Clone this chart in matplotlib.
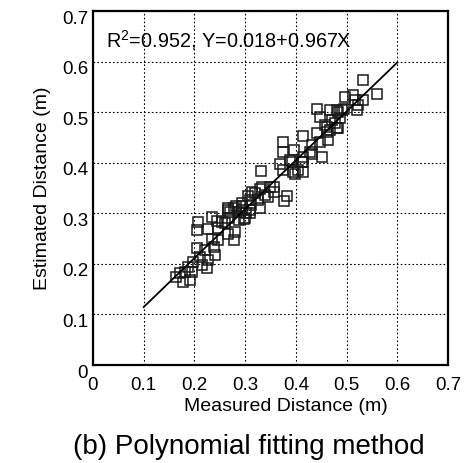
import numpy as np
import matplotlib.pyplot as plt
import matplotlib.transforms as mtransforms

plt.rcParams['font.family'] = ['Liberation Sans', 'DejaVu Sans']
plt.rcParams['mathtext.fontset'] = 'custom'
plt.rcParams['mathtext.rm'] = 'Liberation Sans'

# measured vs estimated distances (m)
measured = [
    0.208, 0.206, 0.226, 0.244, 0.247, 0.260, 0.267, 0.280, 0.279, 0.267,
    0.281, 0.294, 0.298, 0.310, 0.247, 0.234, 0.205, 0.220, 0.239, 0.241,
    0.226, 0.211, 0.198, 0.188, 0.181, 0.195, 0.172, 0.164, 0.178, 0.191,
    0.224, 0.214,
    0.331, 0.377, 0.383, 0.375, 0.396, 0.389, 0.369, 0.395, 0.413, 0.405,
    0.334, 0.349, 0.356, 0.339, 0.320, 0.306, 0.326, 0.312, 0.293, 0.279,
    0.270, 0.288, 0.301, 0.267, 0.255,
    0.497, 0.517, 0.521, 0.441, 0.448, 0.467, 0.484, 0.490, 0.487, 0.471,
    0.458, 0.477, 0.484, 0.467, 0.415, 0.441, 0.461, 0.448, 0.464, 0.431,
    0.428, 0.451, 0.375, 0.392, 0.415, 0.415, 0.375, 0.398, 0.431, 0.415,
    0.532, 0.560, 0.512, 0.533, 0.523, 0.494, 0.481, 0.461, 0.481,
    0.313, 0.329, 0.356, 0.346, 0.329, 0.310, 0.293, 0.310, 0.300, 0.287,
    0.234, 0.267,
]
estimated = [
    0.283, 0.267, 0.268, 0.285, 0.270, 0.281, 0.260, 0.263, 0.248, 0.310,
    0.314, 0.314, 0.288, 0.301, 0.247, 0.250, 0.231, 0.227, 0.234, 0.217,
    0.208, 0.214, 0.204, 0.194, 0.184, 0.184, 0.181, 0.175, 0.165, 0.168,
    0.191, 0.198,
    0.384, 0.325, 0.335, 0.422, 0.425, 0.405, 0.397, 0.382, 0.402, 0.385,
    0.352, 0.352, 0.342, 0.336, 0.341, 0.334, 0.327, 0.316, 0.320, 0.310,
    0.303, 0.303, 0.301, 0.290, 0.283,
    0.530, 0.524, 0.504, 0.507, 0.491, 0.504, 0.501, 0.504, 0.488, 0.484,
    0.474, 0.478, 0.468, 0.464, 0.453, 0.458, 0.461, 0.441, 0.445, 0.435,
    0.422, 0.412, 0.441, 0.402, 0.402, 0.381, 0.385, 0.377, 0.418, 0.412,
    0.563, 0.535, 0.534, 0.524, 0.514, 0.507, 0.504, 0.471, 0.468,
    0.343, 0.349, 0.352, 0.333, 0.310, 0.326, 0.306, 0.306, 0.290, 0.287,
    0.293, 0.306,
]

fit_a, fit_b = 0.018, 0.967
fit_x = [0.1, 0.6]
ticks = [0, 0.1, 0.2, 0.3, 0.4, 0.5, 0.6, 0.7]
tick_labels = ['0', '0.1', '0.2', '0.3', '0.4', '0.5', '0.6', '0.7']

fig = plt.figure(figsize=(4.66, 4.63), dpi=100)
ax = fig.add_axes([93/466, 98/463, 355/466, 354/463])

ax.plot(measured, estimated, 's', ms=7.4, mfc='none', mec='#1a1a1a', mew=1.1)
fx = np.array(fit_x)
ax.plot(fx, fit_a + fit_b*fx, 'k-', lw=1.3)

ax.set_xlim(0, 0.7)
ax.set_ylim(0, 0.7)
ax.set_xticks(ticks)
ax.set_yticks(ticks)
ax.set_xticklabels(tick_labels)
ax.set_yticklabels(tick_labels)
ax.grid(True, color='k', ls=(0, (1.5, 2)), lw=0.8)
ax.tick_params(direction='in', length=0, labelsize=13.5)
ax.tick_params(axis='x', pad=8.5)
ax.tick_params(axis='y', pad=3.5)
for s in ax.spines.values():
    s.set_linewidth(1.6)

off = mtransforms.ScaledTranslation(0, -6/100, fig.dpi_scale_trans)
for lab in ax.get_yticklabels():
    lab.set_transform(lab.get_transform() + off)

ax.set_xlabel('Measured Distance (m)', fontsize=14, labelpad=3)
ax.xaxis.label.set_x((286 - 93) / 355)
ax.set_ylabel('Estimated Distance (m)', fontsize=14, labelpad=8)
ax.text(0.026, 0.642, r'R$^{\mathrm{2}}$=0.952, Y=0.018+0.967X', fontsize=14.3,
        va='center', ha='left')

fig.text(248.5/466, 1 - 447/463, '(b) Polynomial fitting method', fontsize=20,
         ha='center', va='center')

fig.savefig('out.png', dpi=100)
